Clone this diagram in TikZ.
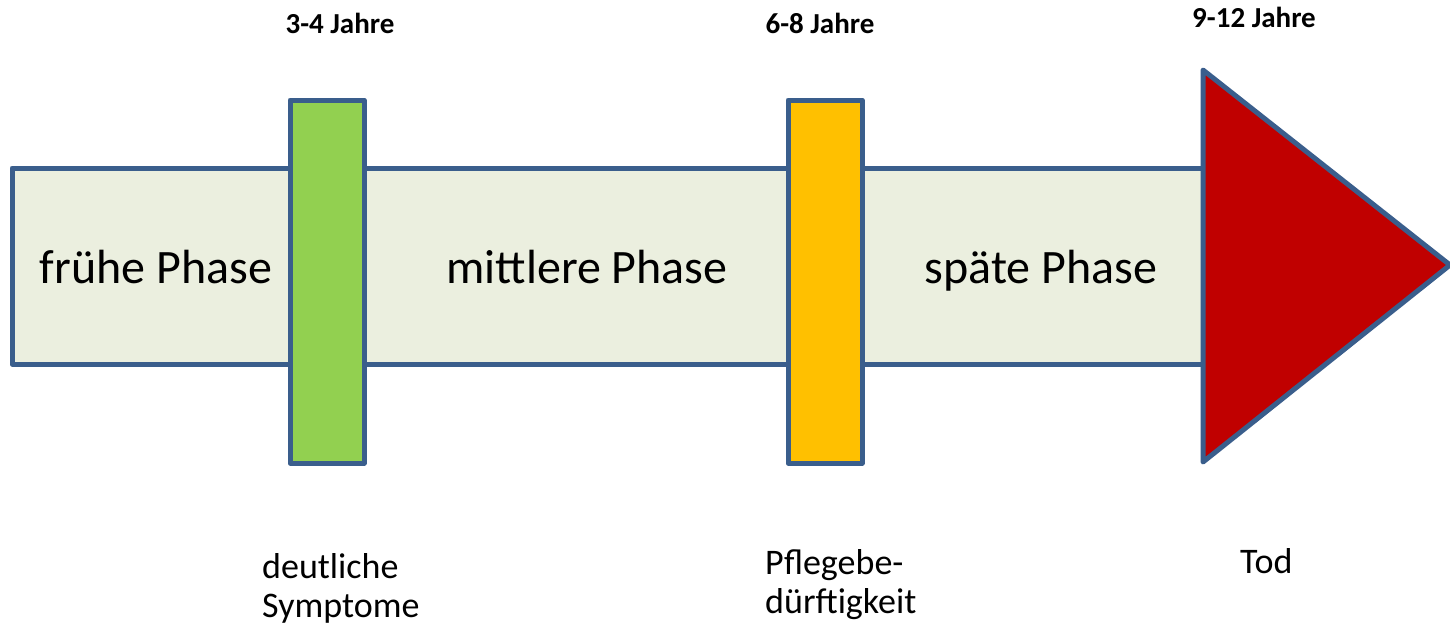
\documentclass[tikz,border=0pt]{standalone}
\usepackage{fontspec}
\setmainfont{Carlito}
\definecolor{edge}{HTML}{3A5E8C}
\definecolor{bandfill}{HTML}{EBEFDF}
\definecolor{early}{HTML}{92D050}
\definecolor{care}{HTML}{FFC000}
\definecolor{death}{HTML}{C00000}
\begin{document}
\begin{tikzpicture}[x=1pt,y=-1pt,
  outline/.style={draw=edge,line width=5pt,line join=round},
  phase/.style={font=\fontsize{48}{58}\selectfont,text=black,anchor=base},
  years/.style={font=\bfseries\fontsize{29}{35}\selectfont,text=black,anchor=base},
  event/.style={font=\fontsize{36}{39}\selectfont,align=left,anchor=base west,inner sep=0pt,text=black}]
\useasboundingbox (0,0) rectangle (1450,627);
% the time band
\draw[outline,fill=bandfill] (12,168) rectangle (1203,364);
% milestone bars
\draw[outline,fill=early] (290,100) rectangle (364,463);
\draw[outline,fill=care] (788,100) rectangle (862,463);
% end of the band
\coordinate (tt) at (1203,70);
\coordinate (tb) at (1203,462);
\coordinate (tip) at (1450,265);
\draw[outline,fill=death] (tt) -- (tip) -- (tb) -- cycle;
% phase names
\node[phase] (p1) at (156,283) {frühe Phase};
\node[phase] (p2) at (587,283) {mittlere Phase};
\node[phase] (p3) at (1041,283) {späte Phase};
% ages
\node[years] (y1) at (340,33) {3-4 Jahre};
\node[years] (y2) at (820,33) {6-8 Jahre};
\node[years] (y3) at (1254,27) {9-12 Jahre};
% events (anchored at the baseline of the last line)
\node[event] (e1) at (262,617) {deutliche\\Symptome};
\node[event] (e2) at (765,613) {Pflegebe-\\dürftigkeit};
\node[event] (e3) at (1240,573) {Tod};
\end{tikzpicture}
\end{document}
